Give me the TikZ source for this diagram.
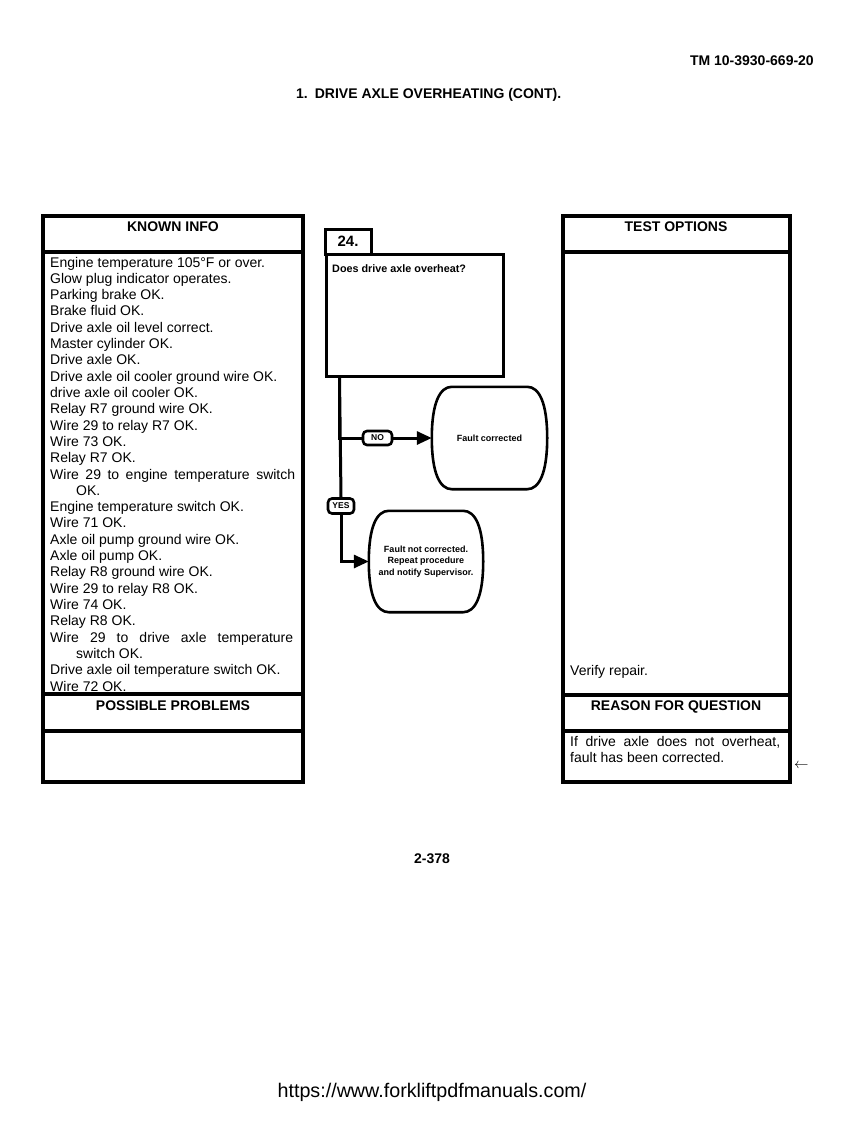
\documentclass[tikz,border=0pt]{standalone}
\usepackage{fontspec}
\setmainfont{Liberation Sans}
\usetikzlibrary{arrows.meta,calc}
\newcommand\drawbarrel[1]{%
\draw[line width=2.6pt] ($(#1.north west)+(20,0)$) -- ($(#1.north east)+(-20,0)$)
 .. controls ($(#1.north east)+(-8,0)$) and ($(#1.east)+(0,-35)$) .. (#1.east)
 .. controls ($(#1.east)+(0,35)$) and ($(#1.south east)+(-8,0)$) .. ($(#1.south east)+(-20,0)$)
 -- ($(#1.south west)+(20,0)$)
 .. controls ($(#1.south west)+(8,0)$) and ($(#1.west)+(0,35)$) .. (#1.west)
 .. controls ($(#1.west)+(0,-35)$) and ($(#1.north west)+(8,0)$) .. cycle;}
\begin{document}
\begin{tikzpicture}[x=1pt,y=-1pt,
  boxline/.style={line width=3.4pt},
  kt/.style={anchor=base west, inner sep=0, font=\fontsize{14}{16}\selectfont},
  hd/.style={anchor=base, inner sep=0, font=\fontsize{14}{16}\selectfont\bfseries},
  flowline/.style={line width=3pt},
  tip/.style={-{Triangle[length=15pt,width=13pt]}},
  lbl/.style={draw, line width=2.6pt, rounded corners=4pt, fill=white, inner sep=0, font=\fontsize{8.5}{9}\selectfont\bfseries},
  ovaltext/.style={inner sep=0, align=center, font=\fontsize{9}{11.5}\selectfont\bfseries},
  barrel/.style={inner sep=0, minimum width=#1pt},
]
\useasboundingbox (0,0) rectangle (866,1122);

% page header
\node[anchor=base east, inner sep=0, font=\fontsize{14}{16}\selectfont\bfseries] (tm) at (814,65) {TM 10-3930-669-20};
\node[anchor=base west, inner sep=0, font=\fontsize{14}{16}\selectfont\bfseries] (title) at (296,98) {1.\hspace{7pt}DRIVE AXLE OVERHEATING (CONT).};

% KNOWN INFO box
\draw[boxline] (43,216) rectangle (303,782);
\draw[boxline] (43,252) -- (303,252);
\draw[boxline] (43,694) -- (303,694);
\draw[boxline] (43,731) -- (303,731);
\node[hd] (kih) at (173,231) {KNOWN INFO};
\node[hd] (pph) at (173,710) {POSSIBLE PROBLEMS};
\foreach \t [count=\i] in {
  {Engine temperature 105°F or over.},
  {Glow plug indicator operates.},
  {Parking brake OK.},
  {Brake fluid OK.},
  {Drive axle oil level correct.},
  {Master cylinder OK.},
  {Drive axle OK.},
  {Drive axle oil cooler ground wire OK.},
  {drive axle oil cooler OK.},
  {Relay R7 ground wire OK.},
  {Wire 29 to relay R7 OK.},
  {Wire 73 OK.},
  {Relay R7 OK.},
  {\makebox[245pt][s]{Wire 29 to engine temperature switch}},
  {\hspace*{26pt}OK.},
  {Engine temperature switch OK.},
  {Wire 71 OK.},
  {Axle oil pump ground wire OK.},
  {Axle oil pump OK.},
  {Relay R8 ground wire OK.},
  {Wire 29 to relay R8 OK.},
  {Wire 74 OK.},
  {Relay R8 OK.},
  {\makebox[243pt][s]{Wire 29 to drive axle temperature}},
  {\hspace*{26pt}switch OK.},
  {Drive axle oil temperature switch OK.},
  {Wire 72 OK.}}
  \node[kt] (k\i) at (50,{267+16.31*(\i-1)}) {\t};

% TEST OPTIONS box
\draw[boxline] (563,216) rectangle (790,782);
\draw[boxline] (563,252) -- (790,252);
\draw[boxline] (563,695) -- (790,695);
\draw[boxline] (563,731) -- (790,731);
\node[hd] (toh) at (676,231) {TEST OPTIONS};
\node[hd] (rqh) at (676,710) {REASON FOR QUESTION};
\node[kt] (vr) at (570,675) {Verify repair.};
\node[kt] (rq1) at (570,746) {\makebox[210pt][s]{If drive axle does not overheat,}};
\node[kt] (rq2) at (570,762) {fault has been corrected.};
\node[anchor=base west, inner sep=0, font=\fontsize{15}{16}\selectfont] (mark) at (794,768) {$\leftarrow$};

% flowchart
\node[draw, line width=3pt, minimum width=46pt, minimum height=25pt, inner sep=0, font=\fontsize{15}{16}\selectfont\bfseries] (tab) at (348,241.5) {24.};
\node[draw, line width=3pt, fill=white, minimum width=177pt, minimum height=122pt, inner sep=0] (q) at (414.5,315) {};
\node[anchor=base west, inner sep=0, font=\fontsize{10.8}{12}\selectfont\bfseries] (qt) at (332,272) {Does drive axle overheat?};

\node[barrel=115, minimum height=102pt] (nooval) at (489.5,438) {};
\drawbarrel{nooval}
\node[ovaltext] (not) at (nooval) {Fault corrected};

\node[barrel=114, minimum height=101pt] (yesoval) at (426,561.5) {};
\drawbarrel{yesoval}
\node[ovaltext] (yest) at (yesoval) {Fault not corrected.\\Repeat procedure\\and notify Supervisor.};

\node[lbl, minimum width=29pt, minimum height=14pt] (no) at (377.5,438) {NO};
\node[lbl, minimum width=26pt, minimum height=15pt] (yes) at (341,506) {YES};

\coordinate (vt) at ($(q.south west)+(15,0)$);
\draw[flowline] (vt) |- (no.west);
\draw[flowline,tip] (no.east) -- (nooval.west);
\draw[flowline] (vt) -- (yes.north);
\draw[flowline,tip] (yes.south) |- (yesoval.west);

% footer
\node[anchor=base, inner sep=0, font=\fontsize{14}{16}\selectfont\bfseries] (pg) at (432,863) {2-378};
\node[anchor=base, inner sep=0, font=\fontsize{19.7}{22}\selectfont] (url) at (432,1097) {https://www.forkliftpdfmanuals.com/};
\end{tikzpicture}
\end{document}
